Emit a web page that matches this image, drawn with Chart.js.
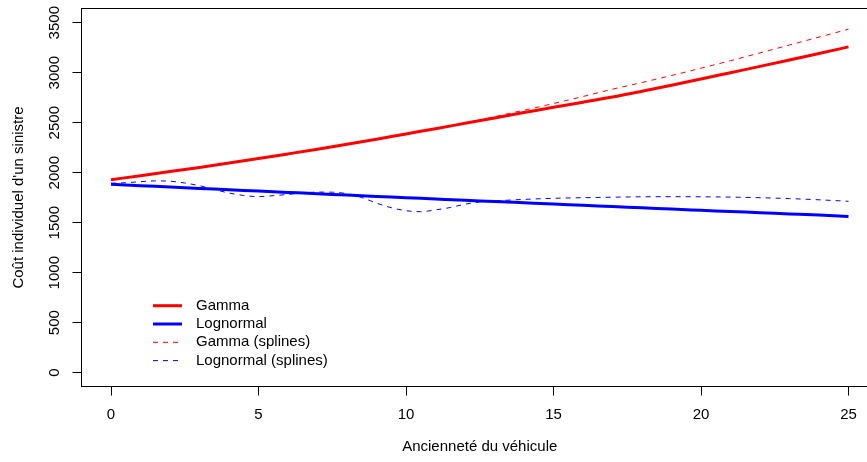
<!DOCTYPE html>
<html>
<head>
<meta charset="utf-8">
<script src="https://cdn.jsdelivr.net/npm/chart.js@4"></script>
<style>
  html, body { margin: 0; padding: 0; background: #fff; overflow: hidden; }
</style>
</head>
<body>
<!-- canvas is a bit wider than the window: the right side of the box is cut off like in the original -->
<canvas id="chart" width="890" height="462"></canvas>
<script>
    // ---- data ----
    const years = [0, 1, 2, 3, 4, 5, 6, 7, 8, 9, 10, 11, 12, 13, 14, 15, 16, 17, 18, 19, 20, 21, 22, 23, 24, 25];
    const gamma = [1930, 1970, 2011, 2053, 2097, 2142, 2188, 2235, 2284, 2335, 2388, 2440, 2494, 2548, 2601, 2655, 2705, 2757, 2815, 2875, 2937, 3000, 3063, 3127, 3192, 3258];
    const lognormal = [1884, 1870, 1857, 1843, 1830, 1816, 1803, 1790, 1776, 1763, 1750, 1737, 1724, 1712, 1699, 1686, 1674, 1661, 1649, 1636, 1624, 1612, 1600, 1588, 1576, 1562];
    const gammaSplines = [1925, 1968, 2010, 2052, 2097, 2142, 2187, 2233, 2282, 2333, 2386, 2438, 2492, 2560, 2625, 2692, 2762, 2835, 2902, 2972, 3045, 3120, 3198, 3277, 3356, 3435];
    const yearsHalf = [0, 0.5, 1, 1.5, 2, 2.5, 3, 3.5, 4, 4.5, 5, 5.5, 6, 6.5, 7, 7.5, 8, 8.5, 9, 9.5, 10, 10.5, 11, 11.5, 12, 12.5, 13, 14, 15, 16, 17, 18, 19, 20, 21, 22, 23, 24, 25];
    const lognormalSplines = [1894, 1900, 1910, 1918, 1915, 1897, 1870, 1832, 1797, 1772, 1761, 1770, 1783, 1797, 1806, 1805, 1790, 1752, 1696, 1650, 1620, 1610, 1628, 1652, 1685, 1708, 1718, 1733, 1744, 1750, 1755, 1759, 1760, 1759, 1756, 1750, 1741, 1729, 1714];

    const xTicks = [0, 5, 10, 15, 20, 25];
    const yTicks = [0, 500, 1000, 1500, 2000, 2500, 3000, 3500];
    const seriesNames = ['Gamma', 'Lognormal', 'Gamma (splines)', 'Lognormal (splines)'];

    const FONT = '"Liberation Sans", Arial, Helvetica, sans-serif';
    const FSIZE = 15;

    function pts(xs, ys) {
        return xs.map((x, i) => ({ x: x, y: ys[i] }));
    }

    // box around the plot region (R's box())
    const boxPlugin = {
        id: 'box',
        afterDraw(chart) {
            const a = chart.chartArea;
            const ctx = chart.ctx;
            ctx.save();
            ctx.strokeStyle = '#000';
            ctx.lineWidth = 1;
            ctx.strokeRect(a.left, a.top, a.right - a.left, a.bottom - a.top);
            ctx.restore();
        }
    };

    // y tick labels, turned like R's default (las = 0)
    const yLabelsPlugin = {
        id: 'yLabels',
        afterDraw(chart) {
            const y = chart.scales.y;
            const ctx = chart.ctx;
            ctx.save();
            ctx.fillStyle = '#000';
            ctx.font = FSIZE + 'px ' + FONT;
            ctx.textAlign = 'center';
            ctx.textBaseline = 'middle';
            yTicks.forEach(v => {
                ctx.save();
                ctx.translate(55, y.getPixelForValue(v));
                ctx.rotate(-Math.PI / 2);
                ctx.fillText(String(v), 0, 0);
                ctx.restore();
            });
            ctx.restore();
        }
    };

    // legend inside the plot, bottom left, no frame
    const legendPlugin = {
        id: 'rLegend',
        afterDraw(chart) {
            const ctx = chart.ctx;
            ctx.save();
            ctx.font = FSIZE + 'px ' + FONT;
            ctx.textBaseline = 'middle';
            ctx.textAlign = 'left';
            chart.data.datasets.forEach((ds, i) => {
                const yy = 305.7 + i * 18.3;
                ctx.strokeStyle = ds.borderColor;
                ctx.lineWidth = ds.borderWidth;
                ctx.setLineDash(ds.borderDash || []);
                ctx.beginPath();
                ctx.moveTo(153, yy);
                ctx.lineTo(182, yy);
                ctx.stroke();
                ctx.setLineDash([]);
                ctx.fillStyle = '#000';
                ctx.fillText(ds.label, 196, yy);
            });
            ctx.restore();
        }
    };

    new Chart(document.getElementById('chart'), {
        type: 'line',
        data: {
            datasets: [
                { label: seriesNames[0], data: pts(years, gamma), borderColor: '#ff0000', borderWidth: 3, order: 2 },
                { label: seriesNames[1], data: pts(years, lognormal), borderColor: '#0000ff', borderWidth: 3, order: 3 },
                { label: seriesNames[2], data: pts(years, gammaSplines), borderColor: '#ff0000', borderWidth: 1, borderDash: [5, 5], order: 0 },
                { label: seriesNames[3], data: pts(yearsHalf, lognormalSplines), borderColor: '#0000ff', borderWidth: 1, borderDash: [5, 5], order: 1 }
            ]
        },
        options: {
            responsive: false,
            animation: false,
            devicePixelRatio: 1,
            elements: {
                point: { radius: 0, hoverRadius: 0 },
                line: { fill: false, cubicInterpolationMode: 'monotone', borderCapStyle: 'butt' }
            },
            layout: { padding: { top: 8.5, right: 12, left: 0, bottom: 0 } },
            plugins: {
                legend: { display: false },
                tooltip: { enabled: false }
            },
            scales: {
                x: {
                    type: 'linear',
                    min: -1,
                    max: 26,
                    afterBuildTicks: s => { s.ticks = xTicks.map(v => ({ value: v })); },
                    afterFit: s => { s.height = 75.5; },
                    ticks: { color: '#000', font: { family: FONT, size: FSIZE }, padding: 10.5, maxRotation: 0 },
                    grid: { drawOnChartArea: false, drawTicks: true, tickLength: 9, color: '#000' },
                    border: { display: true, color: '#000', width: 1 },
                    title: {
                        display: true,
                        text: 'Ancienneté du véhicule',
                        color: '#000',
                        font: { family: FONT, size: FSIZE },
                        padding: { top: 0, bottom: 6 }
                    }
                },
                y: {
                    type: 'linear',
                    min: -138,
                    max: 3642,
                    afterBuildTicks: s => { s.ticks = yTicks.map(v => ({ value: v })); },
                    afterFit: s => { s.width = 81.5; },
                    ticks: { display: false },
                    grid: { drawOnChartArea: false, drawTicks: true, tickLength: 9, color: '#000' },
                    border: { display: true, color: '#000', width: 1 },
                    title: {
                        display: true,
                        text: "Coût individuel d'un sinistre",
                        color: '#000',
                        font: { family: FONT, size: FSIZE },
                        padding: { top: 10, bottom: 0 }
                    }
                }
            }
        },
        plugins: [boxPlugin, yLabelsPlugin, legendPlugin]
    });
</script>
</body>
</html>
